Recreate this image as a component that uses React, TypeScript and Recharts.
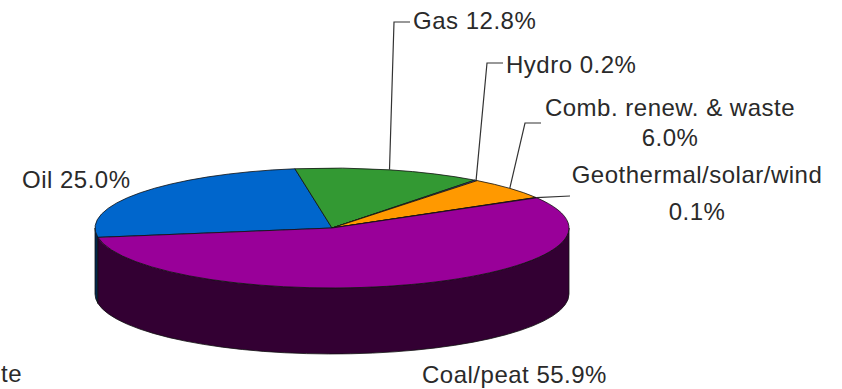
import { PieChart, Pie, Cell } from "recharts";

// Share of total primary energy supply, by source
const sources = ["Oil", "Gas", "Hydro", "Comb. renew. & waste", "Geothermal/solar/wind", "Coal/peat"];
const shares = [25.0, 12.8, 0.2, 6.0, 0.1, 55.9];
const topColors = ["#0066cc", "#339933", "#3366ff", "#ff9900", "#cc3333", "#990099"];
const wallColors = ["#00264d", "#123812", "#1a2a66", "#5c3700", "#4d1313", "#330033"];

const data = sources.map((name, i) => ({ name, value: shares[i] }));

const WIDTH = 842;
const HEIGHT = 389;
const CX = 332;
const CY = 228;
const RADIUS = 237;
const TILT = 0.253; // vertical squash of the top face
const DEPTH = 66; // thickness of the disc
const FONT = '"Liberation Sans", Arial, sans-serif';
const SPACING = 0.5;

type LabelSpot = {
  x: number;
  y: number[];
  anchor: "start" | "middle" | "end";
  twoLines: boolean;
  leader: number[][];
};

// where each label sits and how its leader line bends
const labelSpots: Record<string, LabelSpot> = {
  Oil: { x: 22, y: [188], anchor: "start", twoLines: false, leader: [] },
  Gas: { x: 413, y: [29], anchor: "start", twoLines: false, leader: [[394, 22], [410, 22]] },
  Hydro: { x: 506, y: [73], anchor: "start", twoLines: false, leader: [[487, 63], [503, 63]] },
  "Comb. renew. & waste": {
    x: 670,
    y: [116, 146],
    anchor: "middle",
    twoLines: true,
    leader: [[525, 123], [541, 123]],
  },
  "Geothermal/solar/wind": {
    x: 697,
    y: [183, 220],
    anchor: "middle",
    twoLines: true,
    leader: [[570, 196]],
  },
  "Coal/peat": { x: 422, y: [383], anchor: "start", twoLines: false, leader: [] },
};

function pt(cx: number, cy: number, rx: number, ry: number, deg: number) {
  const r = (deg * Math.PI) / 180;
  return [cx + rx * Math.cos(r), cy - ry * Math.sin(r)];
}

// part of [lo, hi] that faces the viewer (lower half of the ellipse)
function frontRange(lo: number, hi: number): number[] | null {
  for (const k of [-360, 0, 360]) {
    const a = Math.max(lo, -180 + k);
    const b = Math.min(hi, 0 + k);
    if (b > a) return [a, b];
  }
  return null;
}

function Slice3D(props: any) {
  const { cx, cy, outerRadius, startAngle, endAngle, index } = props;
  const rx = outerRadius;
  const ry = outerRadius * TILT;
  const s = Math.max(startAngle, endAngle);
  const e = Math.min(startAngle, endAngle);
  const [sx, sy] = pt(cx, cy, rx, ry, s);
  const [ex, ey] = pt(cx, cy, rx, ry, e);
  const large = s - e > 180 ? 1 : 0;
  const top = `M${cx},${cy} L${sx},${sy} A${rx},${ry} 0 ${large} 1 ${ex},${ey} Z`;

  let wall = null;
  const fr = frontRange(e, s);
  if (fr) {
    const [a, b] = fr;
    const [bx, by] = pt(cx, cy, rx, ry, b);
    const [ax, ay] = pt(cx, cy, rx, ry, a);
    const wl = b - a > 180 ? 1 : 0;
    const d =
      `M${bx},${by} A${rx},${ry} 0 ${wl} 1 ${ax},${ay} ` +
      `L${ax},${ay + DEPTH} A${rx},${ry} 0 ${wl} 0 ${bx},${by + DEPTH} Z`;
    wall = <path d={d} fill={wallColors[index]} stroke="#111" strokeWidth={0.8} />;
  }

  return (
    <g>
      {wall}
      <path d={top} fill={topColors[index]} stroke="#111" strokeWidth={0.8} />
    </g>
  );
}

function SliceLabel(props: any) {
  const { cx, cy, outerRadius, midAngle, name, value } = props;
  const spot = labelSpots[name];
  if (!spot) return null;
  const anchor = pt(cx, cy, outerRadius, outerRadius * TILT, midAngle);
  const pts = spot.leader.length ? [anchor, ...spot.leader] : [];
  const pct = `${Number(value).toFixed(1)}%`;
  const lines = spot.twoLines ? [name, pct] : [`${name} ${pct}`];
  return (
    <g>
      {pts.length > 0 && (
        <polyline
          points={pts.map((p) => p.join(",")).join(" ")}
          fill="none"
          stroke="#333"
          strokeWidth={1.2}
        />
      )}
      {lines.map((t, i) => (
        <text
          key={i}
          x={spot.x}
          y={spot.y[i]}
          textAnchor={spot.anchor}
          fontSize={24}
          fontFamily={FONT}
          letterSpacing={SPACING}
          fill="#2a2a2a"
        >
          {t}
        </text>
      ))}
    </g>
  );
}

export default function App() {
  return (
    <div style={{ position: "absolute", left: 0, top: 0, width: WIDTH, height: HEIGHT, background: "#fff" }}>
      <PieChart width={WIDTH} height={HEIGHT} margin={{ top: 0, right: 0, bottom: 0, left: 0 }}>
        <Pie
          data={data}
          dataKey="value"
          nameKey="name"
          cx={CX}
          cy={CY}
          innerRadius={0}
          outerRadius={RADIUS}
          startAngle={189}
          endAngle={-171}
          stroke="none"
          shape={Slice3D}
          activeShape={Slice3D}
          inactiveShape={Slice3D}
          label={SliceLabel}
          labelLine={false}
          isAnimationActive={false}
        >
          {data.map((d, i) => (
            <Cell key={d.name} fill={topColors[i]} />
          ))}
        </Pie>
        <text x={1} y={382} fontSize={24} fontFamily={FONT} letterSpacing={SPACING} fill="#2a2a2a">
          te
        </text>
      </PieChart>
    </div>
  );
}
